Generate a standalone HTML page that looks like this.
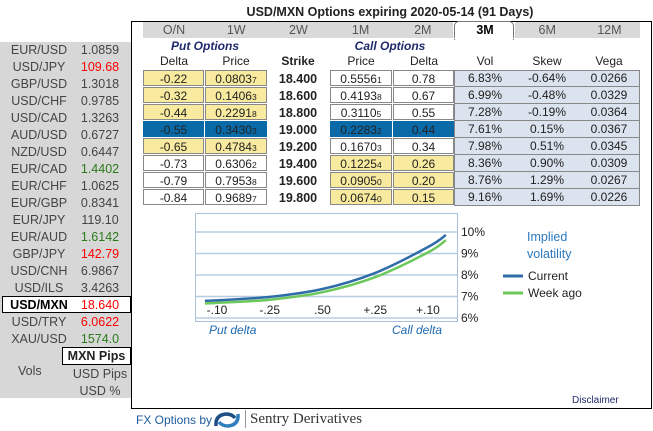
<!DOCTYPE html>
<html><head><meta charset="utf-8">
<style>
body{margin:0;width:653px;height:431px;background:#fff;font-family:"Liberation Sans",Arial,sans-serif;position:relative;overflow:hidden;color:#222}
.a{position:absolute}
.lp{left:0;top:42px;width:131px;height:356px;background:#d7d7d7}
.fx{position:absolute;font-size:12.5px;color:#444;height:17px;line-height:17px}
.tab{position:absolute;top:22px;height:17px;line-height:17px;font-size:12.5px;color:#555;text-align:center;width:60px}
.hd{position:absolute;top:54px;font-size:12px;text-align:center;width:62px}
.cell{position:absolute;height:16px;line-height:16px;font-size:12px;text-align:center;box-sizing:border-box;border:1px solid #888;}
.sm{font-size:8.5px}
</style></head><body>
<div class="a" style="left:130px;width:520px;top:5px;text-align:center;font-weight:bold;font-size:12.5px">USD/MXN Options expiring 2020-05-14 (91 Days)</div>
<div class="a lp"></div>
<div class="a" style="left:131px;top:21px;width:519px;height:386px;border:1px solid #000;border-left-width:1.5px"></div>
<div class="a" style="left:143px;top:22px;width:310px;height:17px;background:#d9d9d9"></div>
<div class="a" style="left:515px;top:22px;width:125px;height:17px;background:#d9d9d9"></div>
<div class="a" style="left:454px;top:21px;width:60px;height:19px;background:#fff;border:1px solid #777;border-bottom:none;border-radius:5px 5px 0 0;box-sizing:border-box"></div>
<div class="a" style="left:143px;top:38px;width:497px;height:1px;background:#fff"></div>
<div id="root"></div>
<div class="a" style="left:150px;width:110px;top:39px;text-align:center;font-weight:bold;font-style:italic;font-size:12px;color:#1f2a6b">Put Options</div>
<div class="a" style="left:335px;width:110px;top:39px;text-align:center;font-weight:bold;font-style:italic;font-size:12px;color:#1f2a6b">Call Options</div>
<svg class="a" style="left:0;top:0" width="653" height="431" id="sv"></svg>
<div class="a" style="left:572px;top:395px;font-size:10px;color:#1f2a6b">Disclaimer</div>
<div class="a" style="left:136px;top:413px;font-size:12px;color:#1e5a9c">FX Options by</div>
<div class="a" style="left:250px;top:411px;font-size:15px;color:#333;font-family:'Liberation Serif',serif">Sentry Derivatives</div>
<div class="a" style="left:245px;top:410px;width:1px;height:18px;background:#999"></div>
<svg class="a" style="left:212px;top:410px" width="30" height="20"><path d="M4 16 Q3 5 14 4 Q20 4 23 8" stroke="#1f4f86" stroke-width="3.5" fill="none"/><path d="M26 4 Q27 15 16 16 Q10 16 7 12" stroke="#2f7fbf" stroke-width="3.5" fill="none"/></svg>
<script>
const pairs=["EUR/USD","USD/JPY","GBP/USD","USD/CHF","USD/CAD","AUD/USD","NZD/USD","EUR/CAD","EUR/CHF","EUR/GBP","EUR/JPY","EUR/AUD","GBP/JPY","USD/CNH","USD/ILS","USD/MXN","USD/TRY","XAU/USD"];
const rates=["1.0859","109.68","1.3018","0.9785","1.3263","0.6727","0.6447","1.4402","1.0625","0.8341","119.10","1.6142","142.79","6.9867","3.4263","18.640","6.0622","1574.0"];
const rateColors=["","r","","","","","","g","","","","g","r","","","r","r","g"];
const tabs=["O/N","1W","2W","1M","2M","3M","6M","12M"];
const headers=["Delta","Price","Strike","Price","Delta","Vol","Skew","Vega"];
const putDelta=["-0.22","-0.32","-0.44","-0.55","-0.65","-0.73","-0.79","-0.84"];
const putPrice=["0.0803|7","0.1406|3","0.2291|8","0.3430|3","0.4784|3","0.6306|2","0.7953|8","0.9689|7"];
const strikes=["18.400","18.600","18.800","19.000","19.200","19.400","19.600","19.800"];
const callPrice=["0.5556|1","0.4193|8","0.3110|5","0.2283|2","0.1670|3","0.1225|4","0.0905|0","0.0674|0"];
const callDelta=["0.78","0.67","0.55","0.44","0.34","0.26","0.20","0.15"];
const vols=["6.83%","6.99%","7.28%","7.61%","7.98%","8.36%","8.76%","9.16%"];
const skews=["-0.64%","-0.48%","-0.19%","0.15%","0.51%","0.90%","1.29%","1.69%"];
const vegas=["0.0266","0.0329","0.0364","0.0367","0.0345","0.0309","0.0267","0.0226"];
const atmRow=3;
const xTicks=["-.10","-.25",".50","+.25","+.10"];
const yTicks=[6,7,8,9,10];
const curveX=[-0.23,0,1,2,3,4,4.34];
const currentVol=[6.8,6.82,6.98,7.35,8.1,9.3,9.86];
const weekAgoVol=[6.68,6.7,6.85,7.2,7.9,9.05,9.62];

const root=document.getElementById('root');
function mk(cls,css,html){const d=document.createElement('div');d.className=cls;d.style.cssText=css;d.innerHTML=html;root.appendChild(d);return d;}
pairs.forEach((p,i)=>{
  const y=42+i*17;const sel=p==="USD/MXN";
  if(sel){const b=mk('a','left:2px;top:'+(y-1)+'px;width:129px;height:17px;background:#fff;border:1px solid #000;box-sizing:border-box','');
    
    }
  const n=mk('fx','left:8px;width:62px;top:'+(y-0.5)+'px;text-align:center;'+(sel?'font-weight:bold;color:#000;':''),p);
  
  
  const c=rateColors[i]==='r'?'#f00':rateColors[i]==='g'?'#2a7a1a':(sel?'#000':'#444');
  const r=mk('fx','left:72px;width:56px;top:'+(y-0.5)+'px;text-align:center;color:'+c+';',rates[i]);
  
  
});
const mp=mk('a','left:62px;top:347px;width:69px;height:18px;background:#fff;border:1px solid #000;box-sizing:border-box;font-weight:bold;font-size:12.5px;text-align:center;line-height:16px','MXN Pips');


const vl=mk('fx','left:18px;top:363px;','Vols');


const up=mk('fx','left:70px;width:60px;text-align:center;top:366px;','USD Pips');


const uc=mk('fx','left:70px;width:60px;text-align:center;top:383px;','USD %');



tabs.forEach((t,i)=>{
  const el=mk('tab','left:'+(144+i*62.2)+'px;'+(t==='3M'?'font-weight:bold;color:#000;':''),t);
  
  
});
const hx=[143,205,267,330,393,454,516,578];
headers.forEach((h,i)=>{
  const el=mk('hd','left:'+hx[i]+'px;'+(h==='Strike'?'font-weight:bold;':''),h);
  
  
});
function pr(s){const a=s.split('|');return a[0]+'<span class="sm">'+a[1]+'</span>';}
for(let i=0;i<8;i++){
  const y=70+i*17;const atm=i===atmRow;
  const putBg=atm?'#0a6aa8':(i<=4?'#f8ea9e':'#fff');
  const callBg=atm?'#0a6aa8':(i>=5?'#f8ea9e':'#fff');
  const cells=[[143,61,putDelta[i],putBg],[205,62,pr(putPrice[i]),putBg],[330,62,pr(callPrice[i]),callBg],[393,61,callDelta[i],callBg]];
  cells.forEach((c,j)=>{
    const el=mk('cell','left:'+c[0]+'px;top:'+y+'px;width:'+c[1]+'px;background:'+c[3]+';'+(atm?'border-color:#0a6aa8;':''),c[2]);
    
    
  });
  const s=mk('a','left:267px;width:62px;top:'+(y+1)+'px;text-align:center;font-weight:bold;font-size:12.5px;line-height:16px',strikes[i]);
  
  
  [[454,vols[i]],[516,skews[i]],[578,vegas[i]]].forEach((c,j)=>{
    const el=mk('a','left:'+c[0]+'px;top:'+y+'px;width:62px;height:16px;line-height:16px;text-align:center;font-size:12px;background:#dbe3ee',c[1]);
    
    
  });
}
const vb=mk('a','left:454px;top:70px;width:186px;height:136px;border:1px solid #888;box-sizing:border-box','');


for(let i=1;i<8;i++){const l=mk('a','left:454px;top:'+(70+i*17-1)+'px;width:186px;height:1px;background:#888','');
  
  }

// chart
const sv=document.getElementById('sv');const NS='http://www.w3.org/2000/svg';
function se(t,a,p){const e=document.createElementNS(NS,t);for(const k in a)e.setAttribute(k,a[k]);(p||sv).appendChild(e);return e;}
const X=i=>217+i*52.75;
const Y=v=>318-(v-6)*21.5;
const box=se('rect',{x:195.5,y:213.5,width:262,height:108,fill:'#fff',stroke:'#a9c1da'});


yTicks.forEach(v=>{
  const g=se('line',{x1:196,x2:457,y1:Y(v),y2:Y(v),stroke:'#b8cde2','stroke-width':1.5});
  
  
  const t=se('text',{x:461,y:Y(v)+4,'font-size':12,fill:'#222','font-family':'Liberation Sans'});t.textContent=v+'%';
  
  
});
xTicks.forEach((s,i)=>{
  const t=se('text',{x:X(i),y:314,'font-size':12,fill:'#222','text-anchor':'middle','font-family':'Liberation Sans'});t.textContent=s;
  
  
});
function line(vals,col,name){
  const pts=vals.map((v,i)=>[X(curveX[i]),Y(v)]);
  let d='M'+pts[0][0].toFixed(1)+' '+pts[0][1].toFixed(1);
  for(let i=0;i<pts.length-1;i++){
    const p0=pts[Math.max(0,i-1)],p1=pts[i],p2=pts[i+1],p3=pts[Math.min(pts.length-1,i+2)];
    const c1=[p1[0]+(p2[0]-p0[0])/6,p1[1]+(p2[1]-p0[1])/6];
    const c2=[p2[0]-(p3[0]-p1[0])/6,p2[1]-(p3[1]-p1[1])/6];
    d+=' C'+c1.map(n=>n.toFixed(1)).join(' ')+' '+c2.map(n=>n.toFixed(1)).join(' ')+' '+p2[0].toFixed(1)+' '+p2[1].toFixed(1);
  }
  const p=se('path',{d:d,stroke:col,'stroke-width':2.5,fill:'none','stroke-linejoin':'round'});
  
  
}
line(weekAgoVol,'#6cc85a','week-ago-line');
line(currentVol,'#2f6ca8','current-line');
function txt(x,y,s,attrs,name){const t=se('text',Object.assign({x:x,y:y,'font-size':12,'font-family':'Liberation Sans'},attrs));t.textContent=s;
  
  }
txt(209,334,'Put delta',{fill:'#1e6bb0','font-style':'italic'},'put-delta-label');
txt(392,334,'Call delta',{fill:'#1e6bb0','font-style':'italic'},'call-delta-label');
txt(527,241,'Implied',{fill:'#2b78c0','font-size':12.5},'legend-title-1');
txt(527,258,'volatility',{fill:'#2b78c0','font-size':12.5},'legend-title-2');
const l1=se('line',{x1:503,x2:523,y1:276,y2:276,stroke:'#2f6ca8','stroke-width':3});


const l2=se('line',{x1:503,x2:523,y1:293,y2:293,stroke:'#6cc85a','stroke-width':3});


txt(528,280,'Current',{fill:'#222'},'legend-current');
txt(528,297,'Week ago',{fill:'#222'},'legend-week-ago');
</script>
</body></html>
